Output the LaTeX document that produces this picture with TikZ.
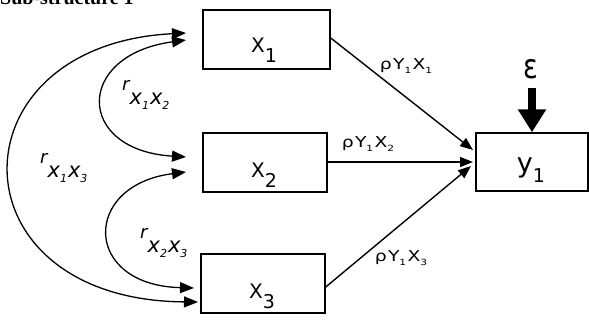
\documentclass[tikz,border=0pt]{standalone}
\usepackage{fontspec}
\setmainfont{DejaVu Sans}
\newfontfamily\titlefont{Liberation Serif}
\usetikzlibrary{arrows.meta}
\tikzset{
  box/.style={draw, line width=1.5pt, inner sep=0pt, minimum width=#1},
  box/.default=124pt,
  conn/.style={line width=1.4pt, -{Triangle[length=13pt,width=10pt]}},
  corr/.style={line width=1.3pt, {Triangle[length=14pt,width=11pt]}-{Triangle[length=14pt,width=11pt]}},
  boxlabel/.style={font=\fontsize{20}{20}\selectfont, inner sep=0pt, anchor=base},
  plabel/.style={font=\fontsize{15}{15}\selectfont, inner sep=0pt},
  rlabel/.style={font=\itshape, inner sep=0pt, anchor=base west},
}
\newcommand{\dsub}[1]{\raisebox{-5pt}{\fontsize{11}{11}\selectfont #1}}
\newcommand{\rsub}[2]{{\fontsize{18}{18}\selectfont r}\raisebox{-14pt}{\fontsize{21}{21}\selectfont x\dsub{#1}\kern1pt x\dsub{#2}}}
\newcommand{\psub}[1]{\scalebox{1.25}[1]{ρ\kern1pt Y\raisebox{-3.5pt}{\fontsize{8.5}{8.5}\selectfont 1}\kern1pt X\raisebox{-3.5pt}{\fontsize{8.5}{8.5}\selectfont #1}}}
\newcommand{\blab}[2]{#1\raisebox{-10pt}{\fontsize{19}{19}\selectfont #2}}
\begin{document}
\begin{tikzpicture}[x=1pt,y=-1pt]
\useasboundingbox (0,0) rectangle (589,325);
% title (cut off at top)
\node[anchor=base west, inner sep=0pt, font=\titlefont\bfseries\fontsize{20}{20}\selectfont] (title) at (0,4.5) {Sub-structure 1};
% boxes
\node[box=127pt, minimum height=59pt] (x1) at (266.5,39.5) {};
\node[box=124pt, minimum height=59pt] (x2) at (265,162.5) {};
\node[box=124pt, minimum height=59pt] (x3) at (263,283.5) {};
\node[box=112pt, minimum height=58pt] (y1) at (532,162) {};
\node[boxlabel] (tx1) at (264,52) {\blab{X}{1}};
\node[boxlabel] (tx2) at (264,177) {\blab{X}{2}};
\node[boxlabel] (tx3) at (262,298) {\blab{X}{3}};
\node[boxlabel, font=\fontsize{27}{27}\selectfont] (ty1) at (531,172) {y\raisebox{-10pt}{\fontsize{19}{19}\selectfont 1}};
% epsilon
\node[inner sep=0pt, font=\fontsize{34}{34}\selectfont] (eps) at (531,69) {\scalebox{0.8}[1]{ε}};
\coordinate (epsstart) at (532,88);
\draw[line width=8pt, -{Triangle[length=23pt,width=27pt]}] (epsstart) -- (y1.north -| epsstart);
% paths to y1
\coordinate (in1) at (473,150);
\coordinate (in2) at (473,162);
\coordinate (in3) at (471,166);
\draw[conn] (x1.east |- 0,38) -- (in1);
\draw[conn] (x2.east |- 0,162) -- (in2);
\draw[conn] (x3.east |- 0,287) -- (in3);
\node[plabel] (p1) at (406,66) {\psub{1}};
\node[plabel] (p2) at (368,144) {\psub{2}};
\node[plabel] (p3) at (401,258) {\psub{3}};
% correlations
\coordinate (a1) at (186,33);
\coordinate (a2) at (186,40);
\coordinate (b1) at (186,157);
\coordinate (b2) at (186,172);
\coordinate (c1) at (194,288);
\coordinate (c2) at (198,302);
\draw[corr] (a1) .. controls (-50,45) and (-50,300) .. (c2);
\draw[corr] (a2) .. controls (75,55) and (75,150) .. (b1);
\draw[corr] (b2) .. controls (82,185) and (82,285) .. (c1);
\node[rlabel] (r12) at (122,90) {\rsub{1}{2}};
\node[rlabel] (r13) at (40,163) {\rsub{1}{3}};
\node[rlabel] (r23) at (140,238) {\rsub{2}{3}};
\end{tikzpicture}
\end{document}
